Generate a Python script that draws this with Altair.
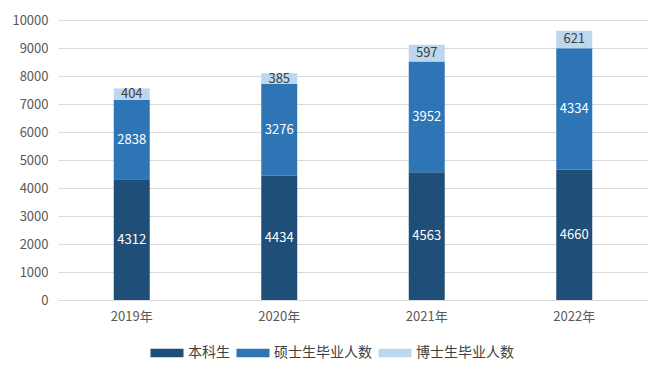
import altair as alt
import pandas as pd

years = ["2019年", "2020年", "2021年", "2022年"]
series = ["本科生", "硕士生毕业人数", "博士生毕业人数"]
undergrad = [4312, 4434, 4563, 4660]
master = [2838, 3276, 3952, 4334]
phd = [404, 385, 597, 621]
y_ticks = list(range(0, 10001, 1000))
colors = ["#1F4E79", "#2E75B6", "#BDD7EE"]
label_colors = ["white", "white", "#404040"]

rows = []
for i, y in enumerate(years):
    for k, (s, vals) in enumerate(zip(series, [undergrad, master, phd])):
        rows.append({"year": y, "series": s, "value": vals[i], "order": k,
                     "lc": label_colors[k]})
df = pd.DataFrame(rows)

FONT = "Noto Sans CJK SC"

base = alt.Chart(df).transform_stack(
    stack="value", groupby=["year"], as_=["v0", "v1"],
    sort=[alt.SortField("order", order="ascending")]
).transform_calculate(mid="(datum.v0 + datum.v1) / 2")

xscale = alt.Scale(paddingInner=0.756, paddingOuter=0.378)
xaxis = alt.Axis(labelAngle=0, labelFont=FONT, labelFontSize=13,
                 labelColor="#595959", ticks=False, domainColor="#d9d9d9",
                 labelPadding=10, grid=False)
yscale = alt.Scale(domain=[0, 10000], nice=False)
yaxis = alt.Axis(values=y_ticks, format="d", labelOverlap=False, labelFont=FONT,
                 labelFontSize=13, labelColor="#595959", ticks=False,
                 domain=False, gridColor="#d9d9d9", labelPadding=10)

bars = base.mark_bar().encode(
    x=alt.X("year:N", sort=years, title=None, scale=xscale, axis=xaxis),
    y=alt.Y("v0:Q", title=None, scale=yscale, axis=yaxis),
    y2="v1:Q",
    color=alt.Color("series:N", sort=series,
                    scale=alt.Scale(domain=series, range=colors),
                    legend=alt.Legend(title=None, orient="none", direction="horizontal",
                                      legendX=92, legendY=316,
                                      symbolType="M-1,-0.25L1,-0.25L1,0.25L-1,0.25Z",
                                      symbolSize=1090, symbolStrokeWidth=0,
                                      labelFont=FONT, labelFontSize=14,
                                      labelColor="#404040", columnPadding=6,
                                      symbolOffset=0, labelOffset=4)),
)

labels = base.mark_text(font=FONT, fontSize=13).encode(
    x=alt.X("year:N", sort=years, title=None, scale=xscale, axis=xaxis),
    y=alt.Y("mid:Q", title=None, scale=yscale, axis=yaxis),
    text="value:Q",
    color=alt.Color("lc:N", scale=None),
)

chart = alt.layer(bars, labels).properties(
    width=590, height=280,
    autosize=alt.AutoSizeParams(type="none"),
    padding={"left": 50, "top": 12, "right": 13, "bottom": 72},
).configure_view(stroke=None)

chart.save("out.html", embed_options={"renderer": "svg", "actions": False})
